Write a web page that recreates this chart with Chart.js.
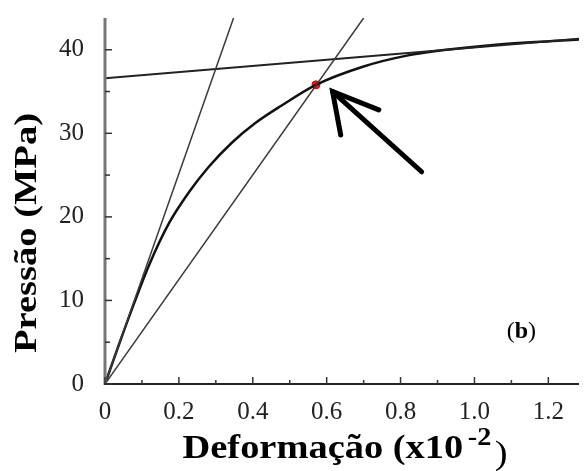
<!DOCTYPE html>
<html>
<head>
<meta charset="utf-8">
<script src="https://cdn.jsdelivr.net/npm/chart.js@4"></script>
<style>
  html, body { margin: 0; padding: 0; background: #fff; }
  #wrap { width: 584px; height: 471px; }
</style>
</head>
<body>
<div id="wrap"><canvas id="c" width="584" height="471"></canvas></div>
<script>
// stress-strain curve
const curveStrain = [0, 0.04, 0.08, 0.12, 0.174, 0.228, 0.281, 0.344, 0.406, 0.477, 0.571, 0.70, 0.817, 0.924, 1.058, 1.236, 1.29];
const curveStress = [0, 5.0, 9.8, 14.3, 19.3, 23.0, 26.0, 28.9, 31.2, 33.3, 35.8, 38.0, 39.3, 40.0, 40.6, 41.1, 41.25];

// straight lines
const tangentStrain = [0, 0.348];
const tangentStress = [0, 43.8];
const secantStrain = [0, 0.70];
const secantStress = [0, 43.8];
const asymStrain = [0, 1.29];
const asymStress = [36.6, 41.35];

// marked point
const yieldStrain = [0.571];
const yieldStress = [35.8];

// arrow (data units)
const arrowShaftStrain = [0.857, 0.616];
const arrowShaftStress = [25.4, 35.0];
const arrowHeadStrain = [0.741, 0.616, 0.638];
const arrowHeadStress = [32.8, 35.0, 29.8];

// ticks
const xTicks = [0, 0.2, 0.4, 0.6, 0.8, 1.0, 1.2];
const xTickLabels = ["0", "0.2", "0.4", "0.6", "0.8", "1.0", "1.2"];
const xMinorTicks = [0.1, 0.3, 0.5, 0.7, 0.9, 1.1];
const yTicks = [0, 10, 20, 30, 40];
const yTickLabels = ["0", "10", "20", "30", "40"];
const yMinorTicks = [5, 15, 25, 35];

const yTitle = "Pressão (MPa)";
const xTitle = "Deformação (x10";
const xTitleExp = "-2";
const panelLabel = "b";

const pts = (xs, ys) => xs.map((x, i) => ({ x, y: ys[i] }));

const axesPlugin = {
  id: "axesPlugin",
  afterDraw(chart) {
    const { ctx, chartArea: a } = chart;
    const xs = chart.scales.x, ys = chart.scales.y;
    ctx.save();
    // axis lines
    ctx.strokeStyle = "#777";
    ctx.lineWidth = 3;
    ctx.beginPath();
    ctx.moveTo(a.left, a.top);
    ctx.lineTo(a.left, a.bottom + 1);
    ctx.stroke();
    ctx.strokeStyle = "#222";
    ctx.lineWidth = 2;
    ctx.beginPath();
    ctx.moveTo(a.left - 1, a.bottom);
    ctx.lineTo(a.right, a.bottom);
    ctx.stroke();
    // ticks pointing inward
    ctx.lineWidth = 1.5;
    ctx.strokeStyle = "#333";
    const tick = (x1, y1, x2, y2) => { ctx.beginPath(); ctx.moveTo(x1, y1); ctx.lineTo(x2, y2); ctx.stroke(); };
    xTicks.forEach(v => { const p = xs.getPixelForValue(v); tick(p, a.bottom, p, a.bottom - 7); });
    xMinorTicks.forEach(v => { const p = xs.getPixelForValue(v); tick(p, a.bottom, p, a.bottom - 4); });
    yTicks.forEach(v => { const p = ys.getPixelForValue(v); tick(a.left, p, a.left + 7, p); });
    yMinorTicks.forEach(v => { const p = ys.getPixelForValue(v); tick(a.left, p, a.left + 5, p); });

    ctx.fillStyle = "#000";
    ctx.textBaseline = "alphabetic";

    // y title, stretched to the reference length
    ctx.font = "bold 32px 'Liberation Serif'";
    const yw = ctx.measureText(yTitle).width;
    ctx.save();
    ctx.translate(36, 233);
    ctx.rotate(-Math.PI / 2);
    ctx.scale(240 / yw, 1);
    ctx.textAlign = "center";
    ctx.fillText(yTitle, 0, 0);
    ctx.restore();

    // x title with superscript
    ctx.textAlign = "left";
    ctx.font = "bold 34px 'Liberation Serif'";
    const w1 = ctx.measureText(xTitle).width;
    ctx.font = "bold 25px 'Liberation Serif'";
    const w2 = ctx.measureText(xTitleExp).width;
    ctx.font = "34px 'Liberation Serif'";
    const w3 = ctx.measureText(")").width;
    const total = w1 + 4 + w2 + 3 + w3;
    const sx = 325 / total;
    ctx.save();
    ctx.translate(345 - 325 / 2, 0);
    ctx.scale(sx, 1);
    ctx.font = "bold 34px 'Liberation Serif'";
    ctx.fillText(xTitle, 0, 458);
    ctx.font = "bold 25px 'Liberation Serif'";
    ctx.fillText(xTitleExp, w1 + 4, 445);
    ctx.font = "34px 'Liberation Serif'";
    ctx.fillText(")", w1 + 4 + w2 + 3, 464);
    ctx.restore();

    // panel label
    const px = xs.getPixelForValue(1.127), py = ys.getPixelForValue(5.5);
    ctx.font = "24px 'Liberation Serif'";
    const pw = ctx.measureText("(").width;
    ctx.font = "bold 24px 'Liberation Serif'";
    const bw = ctx.measureText(panelLabel).width;
    const cx = px - (pw * 2 + bw) / 2;
    ctx.font = "24px 'Liberation Serif'";
    ctx.fillText("(", cx, py);
    ctx.font = "bold 24px 'Liberation Serif'";
    ctx.fillText(panelLabel, cx + pw, py);
    ctx.font = "24px 'Liberation Serif'";
    ctx.fillText(")", cx + pw + bw, py);
    ctx.restore();
  }
};

const thin = { showLine: true, pointRadius: 0, borderColor: "#3a3a3a", borderWidth: 1.5, fill: false };

new Chart(document.getElementById("c"), {
  type: "scatter",
  data: {
    datasets: [
      { ...thin, data: pts(tangentStrain, tangentStress) },
      { ...thin, data: pts(secantStrain, secantStress) },
      { ...thin, data: pts(asymStrain, asymStress), borderColor: "#222", borderWidth: 2 },
      { showLine: true, pointRadius: 0, data: pts(curveStrain, curveStress), borderColor: "#111", borderWidth: 2.5, cubicInterpolationMode: "monotone" },
      { showLine: true, pointRadius: 0, data: pts(arrowShaftStrain, arrowShaftStress), borderColor: "#000", borderWidth: 5, borderCapStyle: "round" },
      { showLine: true, pointRadius: 0, data: pts(arrowHeadStrain, arrowHeadStress), borderColor: "#000", borderWidth: 5, borderCapStyle: "round", borderJoinStyle: "miter" },
      { data: pts(yieldStrain, yieldStress), pointRadius: 4, backgroundColor: "#ff1010", borderColor: "#c00000", borderWidth: 1 }
    ]
  },
  options: {
    responsive: false,
    animation: false,
    layout: { padding: { top: 18, right: 0, left: 0, bottom: 0 } },
    plugins: { legend: { display: false }, tooltip: { enabled: false } },
    scales: {
      x: {
        type: "linear", min: 0, max: 1.283,
        grid: { display: false }, border: { display: false },
        afterBuildTicks: s => { s.ticks = xTicks.map(v => ({ value: v })); },
        afterFit: s => { s.height = 87; s.paddingLeft = 0; s.paddingRight = 0; },
        ticks: {
          padding: 5,
          color: "#222",
          font: { family: "'Liberation Serif'", size: 25 },
          callback: (v, i) => xTickLabels[i]
        }
      },
      y: {
        type: "linear", min: 0, max: 43.8,
        grid: { display: false }, border: { display: false },
        afterBuildTicks: s => { s.ticks = yTicks.map(v => ({ value: v })); },
        afterFit: s => { s.width = 105; s.paddingTop = 0; s.paddingBottom = 0; },
        ticks: {
          padding: 13,
          color: "#222",
          font: { family: "'Liberation Serif'", size: 25 },
          callback: (v, i) => yTickLabels[i]
        }
      }
    }
  },
  plugins: [axesPlugin]
});
</script>
</body>
</html>
